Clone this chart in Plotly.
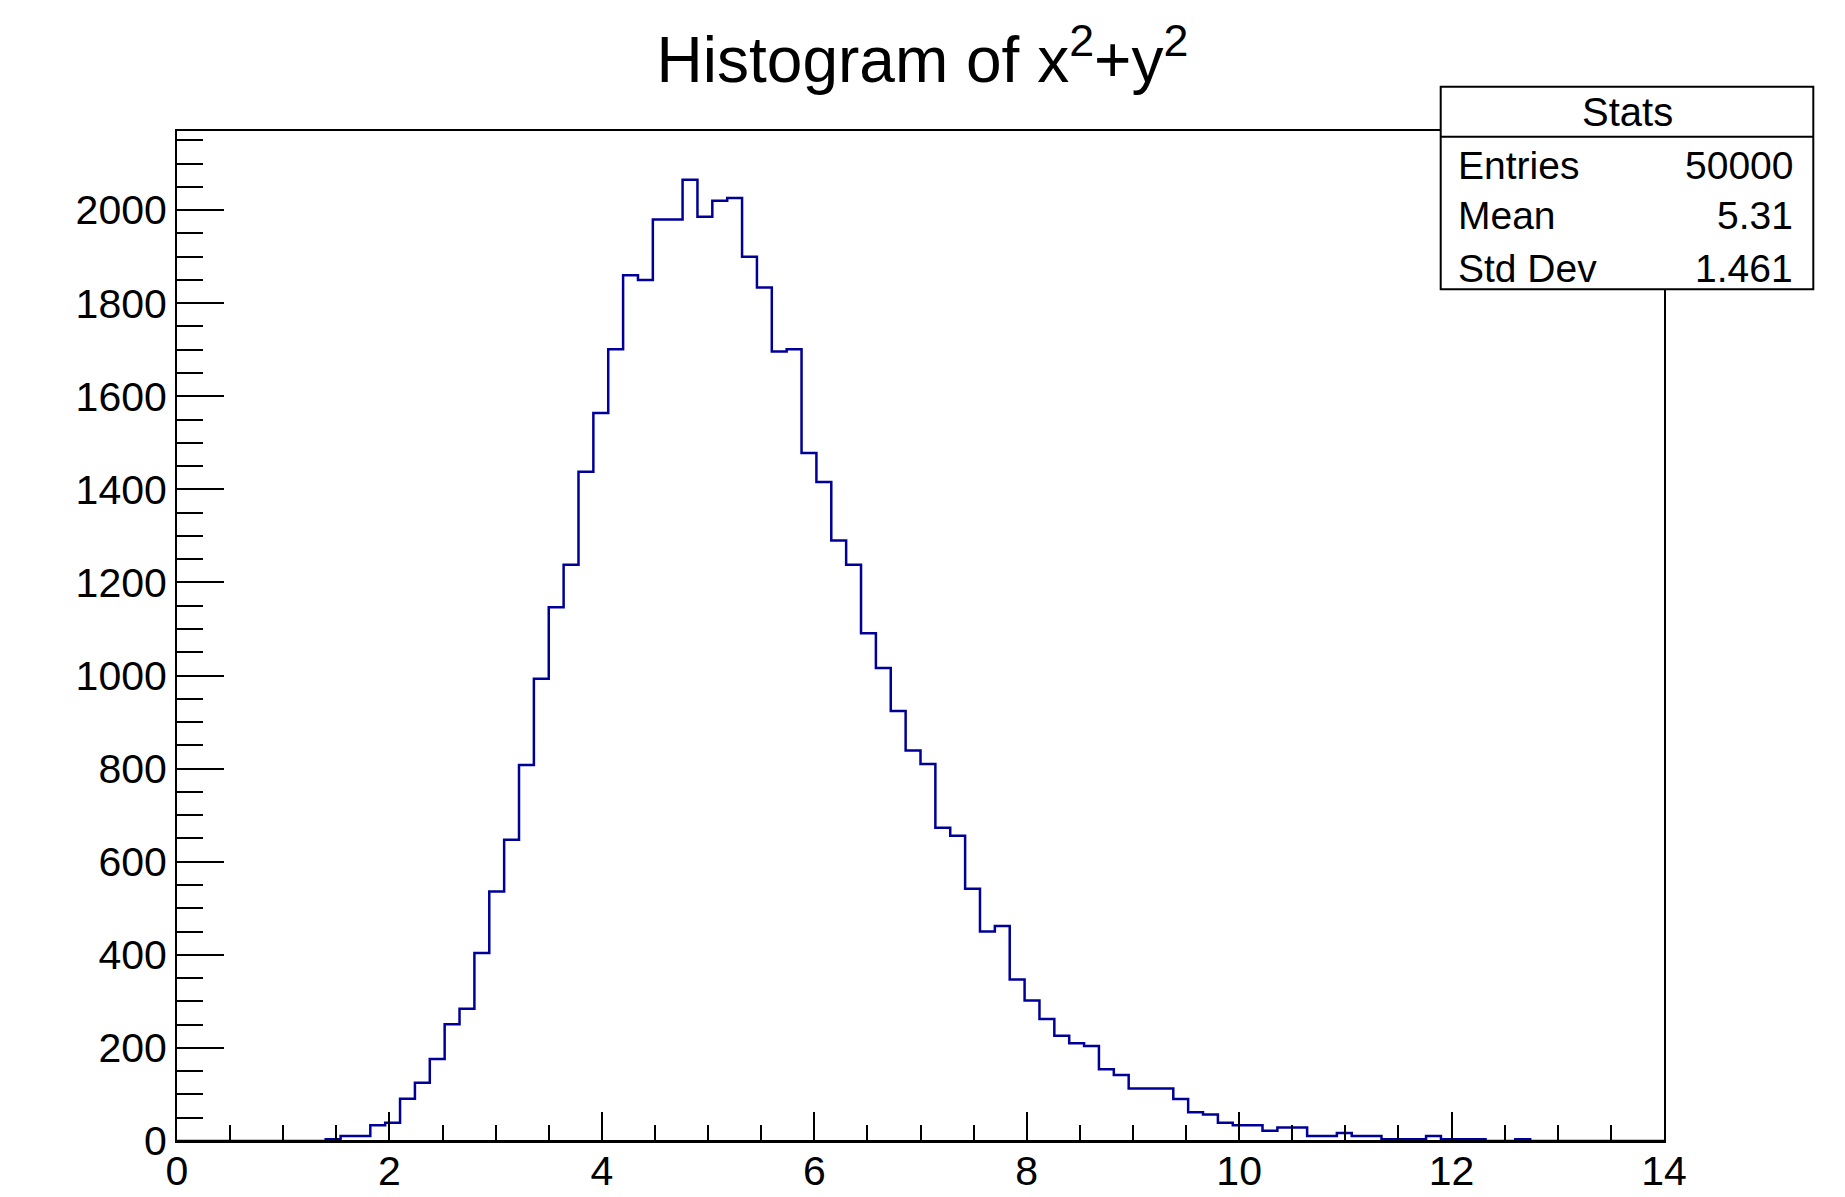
import numpy as np
import plotly.graph_objects as go

# ---- data ----
bin_low = 0.0
bin_width = 0.14
counts = [
    0, 0, 0, 0, 0, 0, 0, 0, 0, 0,
    4, 11, 11, 34, 39, 91, 125, 176, 251, 284,
    404, 536, 647, 808, 993, 1147, 1238, 1438, 1564, 1701,
    1860, 1850, 1980, 1980, 2065, 1986, 2020, 2026, 1900, 1834,
    1696, 1701, 1478, 1416, 1290, 1238, 1091, 1016, 924, 839,
    810, 673, 656, 542, 450, 462, 347, 302, 262, 226,
    210, 204, 154, 142, 113, 113, 113, 90, 62, 57,
    39, 34, 34, 22, 29, 29, 11, 11, 17, 11,
    11, 4, 4, 4, 11, 4, 4, 4, 0, 0,
    4, 0, 0, 0, 0, 0, 0, 0, 0, 0,
]
x_ticks = [0, 2, 4, 6, 8, 10, 12, 14]
y_ticks = [0, 200, 400, 600, 800, 1000, 1200, 1400, 1600, 1800, 2000]
stats_labels = ["Entries", "Mean", "Std Dev"]
stats_values = ["50000", "5.31", "1.461"]
title_text = "Histogram of x<sup>2</sup>+y<sup>2</sup>"

# ---- layout geometry ----
W, H = 1845, 1197
L, R, T, B = 177, 181, 131, 56
PW, PH = W - L - R, H - T - B
FONT = "Liberation Sans, Arial, Helvetica, sans-serif"


def px(xp):
    return (xp - L) / PW


def py(yp):
    return (H - B - yp) / PH


edges = bin_low + bin_width * np.arange(len(counts) + 1)
xs = edges
ys = np.append(np.array(counts, dtype=float), counts[-1])

fig = go.Figure()
fig.add_trace(go.Scatter(
    x=xs, y=ys, mode="lines", line=dict(shape="hv", color="#000099", width=2.5),
    hoverinfo="skip", showlegend=False,
))

axis_common = dict(
    showgrid=False, zeroline=False, showline=True, linecolor="black", linewidth=2,
    mirror=True, ticks="inside", tickcolor="black", tickwidth=2, automargin=False,
    tickfont=dict(family=FONT, size=41, color="black"), layer="above traces",
)

fig.update_xaxes(
    range=[0, 14], tickvals=x_ticks, ticktext=[str(v) for v in x_ticks], ticklen=29,
    ticklabelstandoff=-7,
    minor=dict(dtick=0.5, ticks="inside", ticklen=16, tickwidth=2, tickcolor="black"),
    **axis_common,
)
fig.update_yaxes(
    range=[0, 2170], tickvals=y_ticks, ticktext=[str(v) for v in y_ticks], ticklen=47,
    minor=dict(dtick=50, ticks="inside", ticklen=26, tickwidth=2, tickcolor="black"),
    **axis_common,
)

# stats box
bx0, bx1, by0, by1, bsep = 1440.7, 1813.3, 86.7, 289.3, 136.7
shapes = [
    # baseline of the frame drawn over empty bins (as ROOT's axis covers them)
    dict(type="line", xref="paper", yref="y", x0=0, x1=1, y0=0, y1=0,
         line=dict(color="black", width=2), layer="above"),
    dict(type="rect", xref="paper", yref="paper", x0=px(bx0), x1=px(bx1), y0=py(by1), y1=py(by0),
         line=dict(color="black", width=2), fillcolor="white", layer="above"),
    dict(type="line", xref="paper", yref="paper", x0=px(bx0), x1=px(bx1), y0=py(bsep), y1=py(bsep),
         line=dict(color="black", width=2), layer="above"),
]
annotations = [
    dict(text="Stats", xref="paper", yref="paper", x=px((bx0 + bx1) / 2), y=py(112),
         xanchor="center", yanchor="middle", showarrow=False,
         font=dict(family=FONT, size=40, color="black")),
]
row_y = [165, 216, 268]
for lab, val, yy in zip(stats_labels, stats_values, row_y):
    annotations.append(dict(text=lab, xref="paper", yref="paper", x=px(1456), y=py(yy),
                            xanchor="left", yanchor="middle", showarrow=False,
                            font=dict(family=FONT, size=39, color="black")))
    annotations.append(dict(text=val, xref="paper", yref="paper", x=px(1795), y=py(yy),
                            xanchor="right", yanchor="middle", showarrow=False,
                            font=dict(family=FONT, size=39, color="black")))

fig.update_layout(
    width=W, height=H, autosize=False,
    margin=dict(l=L, r=R, t=T, b=B, pad=0, autoexpand=False),
    paper_bgcolor="white", plot_bgcolor="white",
    title=dict(text=title_text, x=0.5, xref="container", xanchor="center",
               y=1 - 60 / H, yref="container", yanchor="middle",
               font=dict(family=FONT, size=64, color="black")),
    shapes=shapes, annotations=annotations, showlegend=False,
)

fig.write_html("out.html", config={"displayModeBar": False},
               post_script="document.body.style.margin='0';document.body.style.overflow='hidden';")
